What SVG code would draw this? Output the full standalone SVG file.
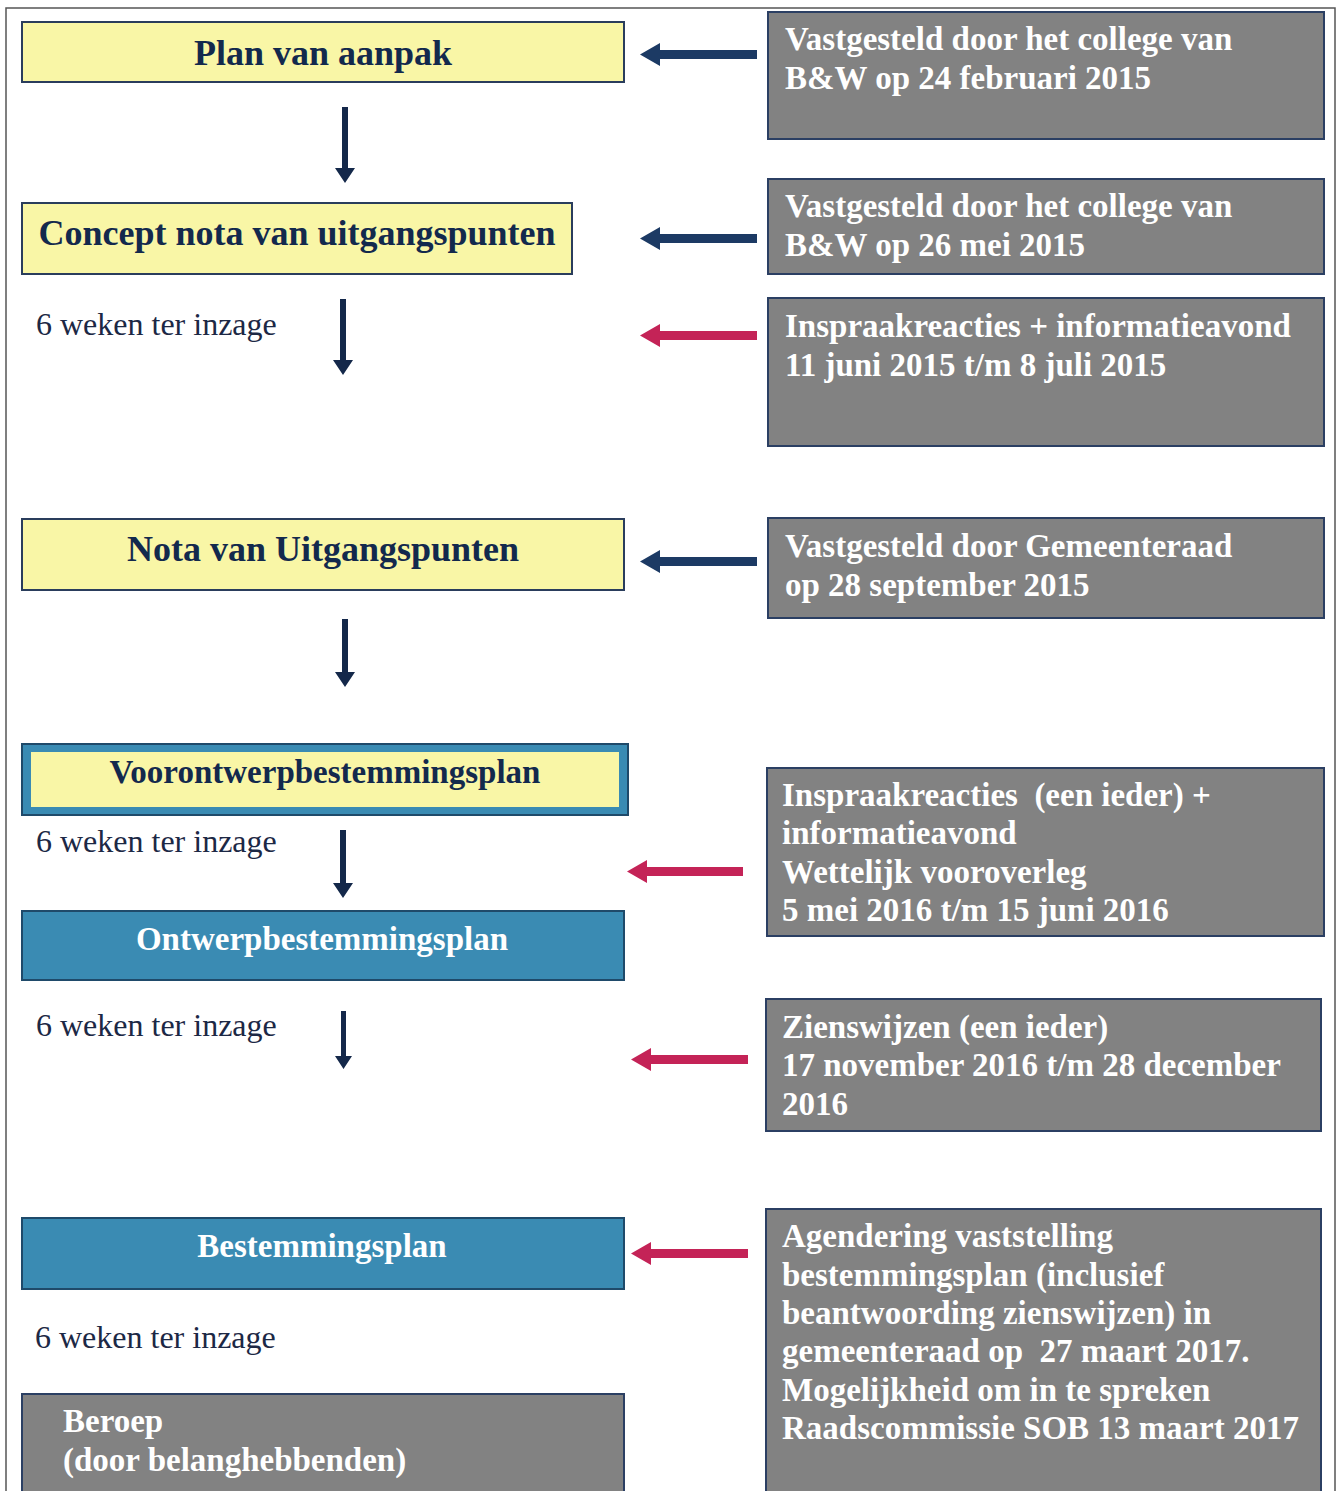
<svg xmlns="http://www.w3.org/2000/svg" width="1340" height="1491" viewBox="0 0 1340 1491">
<style>
.yel{fill:#f9f6a6;stroke:#2a3d5c;stroke-width:2}
.teal{fill:#3a8bb3;stroke:#1f4a6a;stroke-width:2}
.gray{fill:#828282;stroke:#2b3f63;stroke-width:2}
.t{font-family:"Liberation Serif","Times New Roman",serif;font-weight:bold;font-size:33px}
.tt{font-family:"Liberation Serif","Times New Roman",serif;font-weight:bold;font-size:36px;fill:#13294d;text-anchor:middle}
.tv{font-family:"Liberation Serif","Times New Roman",serif;font-weight:bold;font-size:33px;fill:#13294d;text-anchor:middle}
.tw{font-family:"Liberation Serif","Times New Roman",serif;font-weight:bold;font-size:33px;fill:#ffffff;text-anchor:middle}
.g{font-family:"Liberation Serif","Times New Roman",serif;font-weight:bold;font-size:33px;fill:#ffffff}
.n{font-family:"Liberation Serif","Times New Roman",serif;font-size:32px;fill:#1c2845}
.navy{fill:#1c3a64}
.vnavy{fill:#14284a}
.red{fill:#c42357}
</style>
<rect x="0" y="0" width="1340" height="1491" fill="#ffffff"/>
<rect x="6" y="8" width="1329" height="1490" fill="none" stroke="#555" stroke-width="1.5"/>

<g id="connectors">
  <path class="vnavy" d="M342 107h6v61h7l-10 15l-10-15h7z"/>
  <path class="vnavy" d="M340 299h6v61h7l-10 15l-10-15h7z"/>
  <path class="vnavy" d="M342 619h6v53h7l-10 15l-10-15h7z"/>
  <path class="vnavy" d="M340 830h6v53h7l-10 15l-10-15h7z"/>
  <path class="vnavy" d="M341 1011h5v45h6l-8.5 13l-8.5-13h6z"/>
  <path class="navy" d="M757 50v9h-97v7l-20-11.5l20-11.5v7z"/>
  <path class="navy" d="M757 234v9h-97v7l-20-11.5l20-11.5v7z"/>
  <path class="red" d="M757 331v9h-97v7l-20-11.5l20-11.5v7z"/>
  <path class="navy" d="M757 557v9h-97v7l-20-11.5l20-11.5v7z"/>
  <path class="red" d="M743 867v9h-96v7l-20-11.5l20-11.5v7z"/>
  <path class="red" d="M748 1055v9h-97v7l-20-11.5l20-11.5v7z"/>
  <path class="red" d="M748 1249v9h-97v7l-20-11.5l20-11.5v7z"/>
</g>

<g id="plan-van-aanpak">
  <rect class="yel" x="22" y="22" width="602" height="60"/>
  <text class="tt" x="323" y="65">Plan van aanpak</text>
</g>
<g id="concept-nota">
  <rect class="yel" x="22" y="203" width="550" height="71"/>
  <text class="tt" x="297" y="245">Concept nota van uitgangspunten</text>
</g>
<g id="label-1"><text class="n" x="36" y="335">6 weken ter inzage</text></g>
<g id="nota-van-uitgangspunten">
  <rect class="yel" x="22" y="519" width="602" height="71"/>
  <text class="tt" x="323" y="561">Nota van Uitgangspunten</text>
</g>
<g id="voorontwerp">
  <rect x="22" y="744" width="606" height="71" fill="#3a8bb3" stroke="#1f4a6a" stroke-width="2"/>
  <rect x="31" y="752" width="588" height="55" fill="#f9f6a6"/>
  <text class="tv" x="325" y="783">Voorontwerpbestemmingsplan</text>
</g>
<g id="label-2"><text class="n" x="36" y="852">6 weken ter inzage</text></g>
<g id="ontwerp">
  <rect class="teal" x="22" y="911" width="602" height="69"/>
  <text class="tw" x="322" y="950">Ontwerpbestemmingsplan</text>
</g>
<g id="label-3"><text class="n" x="36" y="1036">6 weken ter inzage</text></g>
<g id="bestemmingsplan">
  <rect class="teal" x="22" y="1218" width="602" height="71"/>
  <text class="tw" x="322" y="1257">Bestemmingsplan</text>
</g>
<g id="label-4"><text class="n" x="35" y="1348">6 weken ter inzage</text></g>
<g id="beroep">
  <rect class="gray" x="22" y="1394" width="602" height="110"/>
  <text class="g" x="63" y="1432">Beroep</text>
  <text class="g" x="63" y="1471">(door belanghebbenden)</text>
</g>

<g id="r1">
  <rect class="gray" x="768" y="12" width="556" height="127"/>
  <text class="g" x="785" y="50">Vastgesteld door het college van</text>
  <text class="g" x="785" y="89">B&amp;W op 24 februari 2015</text>
</g>
<g id="r2">
  <rect class="gray" x="768" y="179" width="556" height="95"/>
  <text class="g" x="785" y="217">Vastgesteld door het college van</text>
  <text class="g" x="785" y="256">B&amp;W op 26 mei 2015</text>
</g>
<g id="r3">
  <rect class="gray" x="768" y="298" width="556" height="148"/>
  <text class="g" x="785" y="337">Inspraakreacties + informatieavond</text>
  <text class="g" x="785" y="376">11 juni 2015 t/m 8 juli 2015</text>
</g>
<g id="r4">
  <rect class="gray" x="768" y="518" width="556" height="100"/>
  <text class="g" x="785" y="557">Vastgesteld door Gemeenteraad</text>
  <text class="g" x="785" y="596">op 28 september 2015</text>
</g>
<g id="r5">
  <rect class="gray" x="767" y="768" width="557" height="168"/>
  <text class="g" x="782" y="806" xml:space="preserve">Inspraakreacties  (een ieder) +</text>
  <text class="g" x="782" y="844">informatieavond</text>
  <text class="g" x="782" y="883">Wettelijk vooroverleg</text>
  <text class="g" x="782" y="921">5 mei 2016 t/m 15 juni 2016</text>
</g>
<g id="r6">
  <rect class="gray" x="766" y="999" width="555" height="132"/>
  <text class="g" x="782" y="1038">Zienswijzen (een ieder)</text>
  <text class="g" x="782" y="1076">17 november 2016 t/m 28 december</text>
  <text class="g" x="782" y="1115">2016</text>
</g>
<g id="r7">
  <rect class="gray" x="766" y="1209" width="555" height="295"/>
  <text class="g" x="782" y="1247">Agendering vaststelling</text>
  <text class="g" x="782" y="1286">bestemmingsplan (inclusief</text>
  <text class="g" x="782" y="1324">beantwoording zienswijzen) in</text>
  <text class="g" x="782" y="1362" xml:space="preserve">gemeenteraad op  27 maart 2017.</text>
  <text class="g" x="782" y="1401">Mogelijkheid om in te spreken</text>
  <text class="g" x="782" y="1439">Raadscommissie SOB 13 maart 2017</text>
</g>
</svg>
